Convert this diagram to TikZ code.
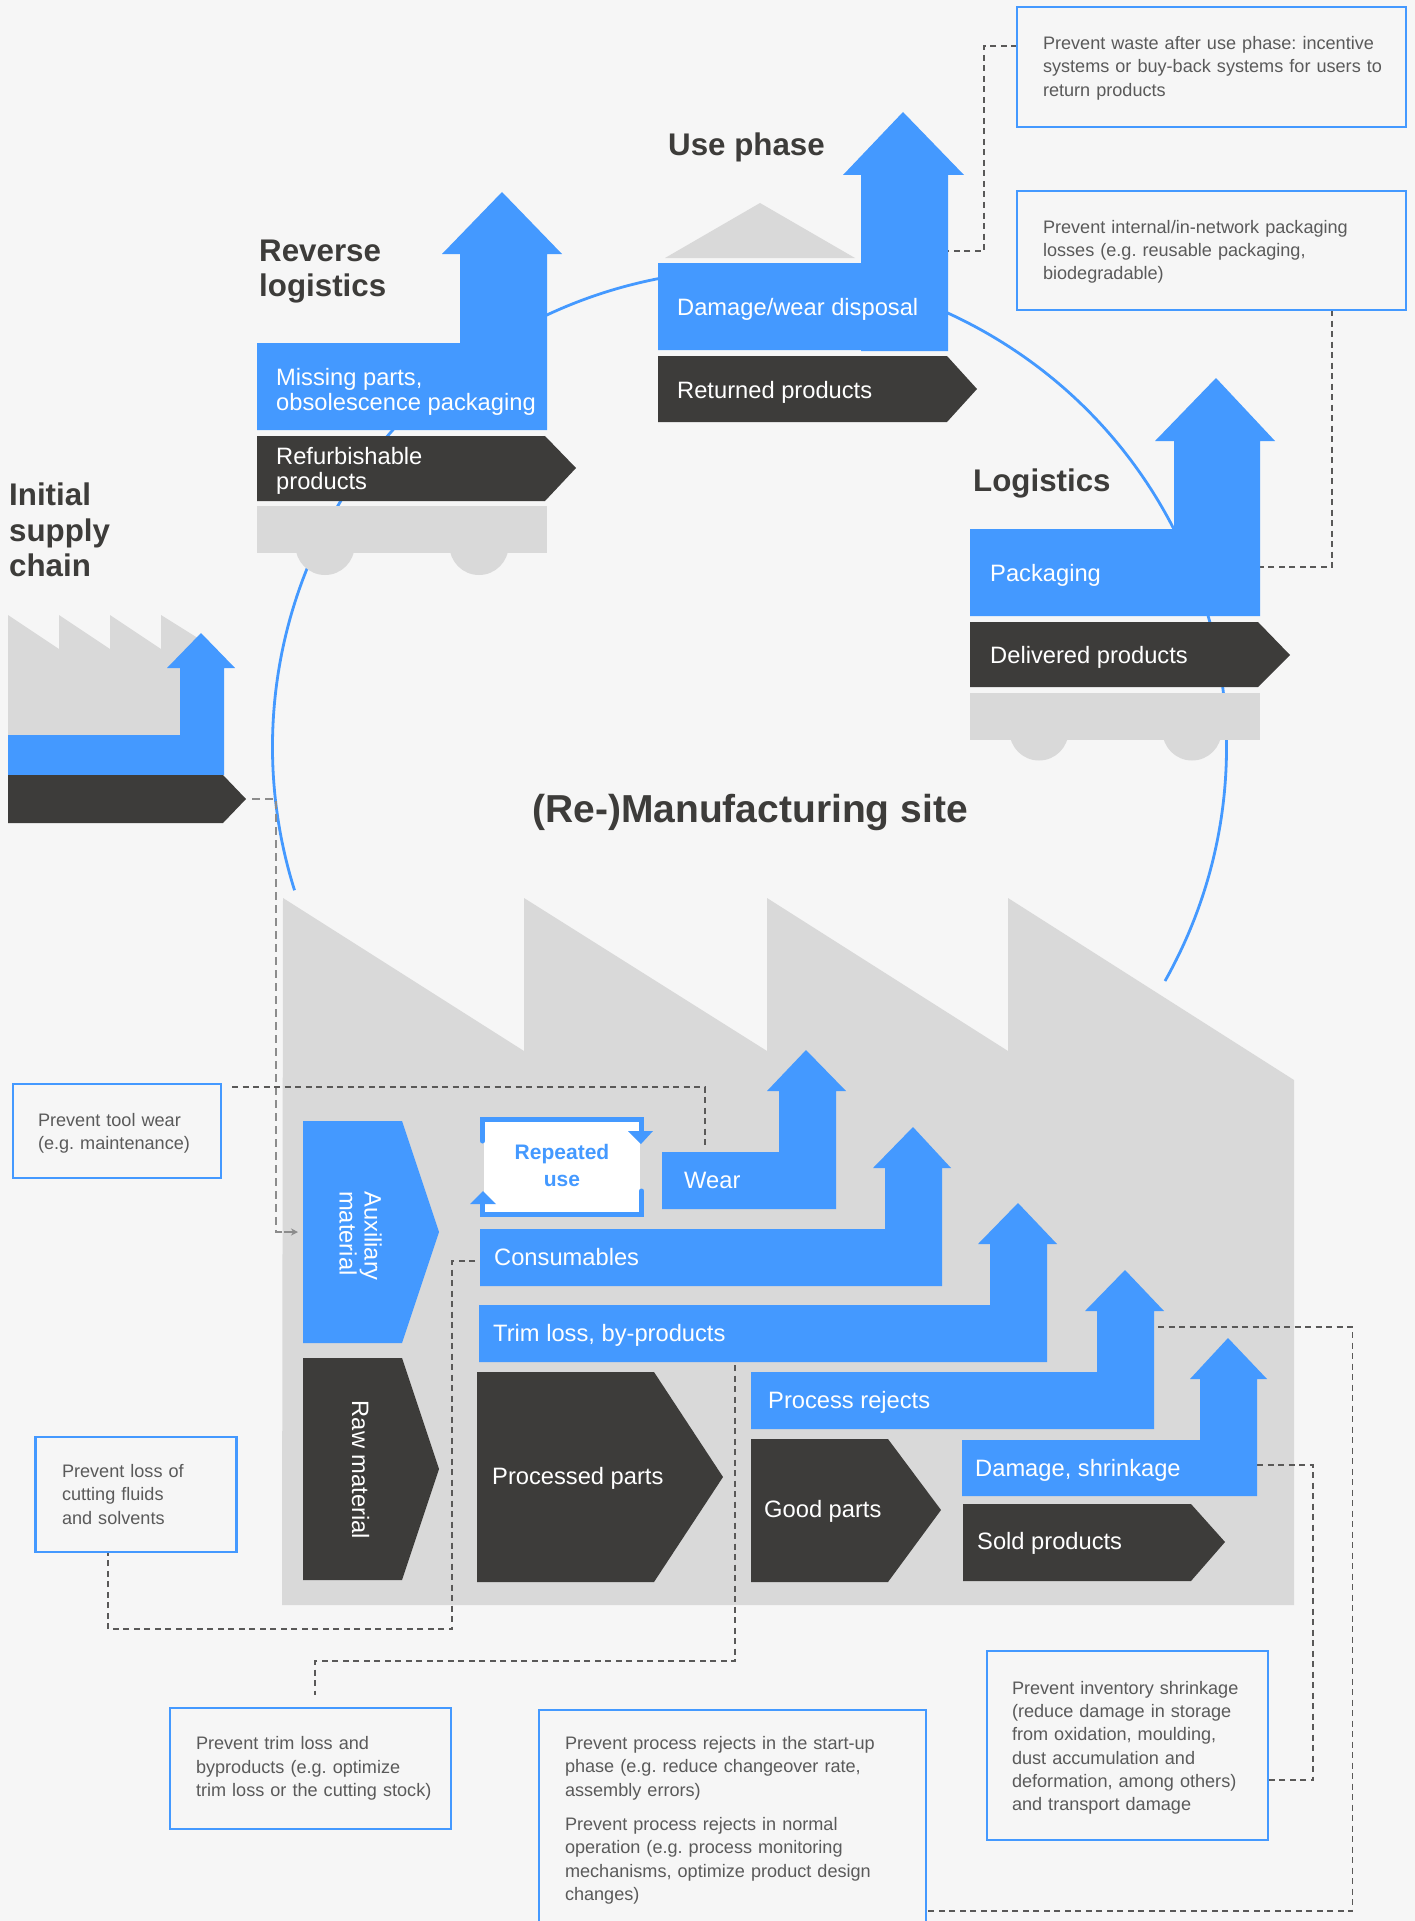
\documentclass[tikz,border=0pt]{standalone}
\usepackage{fontspec}
\setmainfont{Liberation Sans}
\usetikzlibrary{arrows.meta}
\frenchspacing
\definecolor{bgc}{HTML}{F6F6F6}
\definecolor{grayc}{HTML}{D9D9D9}
\definecolor{bluec}{HTML}{4499FF}
\definecolor{darkc}{HTML}{3D3C3A}
\definecolor{notec}{HTML}{5A5A5A}
\tikzset{
  grayshape/.style={fill=grayc,draw=none},
  blueshape/.style={fill=bluec,draw=none},
  darkshape/.style={fill=darkc,draw=none},
  lbl/.style={text=white,anchor=west,inner sep=0pt,align=left,yshift=-2.4pt,font=\fontsize{23.7}{25}\selectfont},
  rotlbl/.style={text=white,inner sep=0pt,align=left,rotate=-90,font=\fontsize{23.7}{25}\selectfont},
  head/.style={text=darkc,anchor=west,inner sep=0pt,align=left,font=\fontsize{31.3}{35.5}\selectfont\bfseries},
  notebox/.style={draw=bluec,line width=2.8pt,fill=none,text=notec,align=left,inner ysep=0pt,
     inner xsep=0pt,font=\fontsize{18.1}{23.3}\selectfont},
  notedown/.style={execute at begin node={\rule{0pt}{#1}}},
  link/.style={draw=darkc!85,line width=1.2pt,dash pattern=on 6pt off 4.5pt},
  inlink/.style={draw=black!45,line width=1.4pt,dash pattern=on 8pt off 5pt},
  ringline/.style={draw=bluec,line width=2.8pt},
  reuse/.style={draw=bluec,line width=5pt,line cap=round,line join=miter}
}
\begin{document}
\begin{tikzpicture}[x=1pt,y=-1pt]
\useasboundingbox[fill=bgc] (0,0) rectangle (1415,1921);

% ring
\coordinate (ringstart) at (1165,981);
\draw[ringline] (ringstart) arc[start angle=-29.4,end angle=197.5,radius=477pt];

% links
\coordinate (a1) at (1017,46);
\coordinate (a2) at (948,251);
\draw[link] (a1) -- (984,46) -- (984,251) -- (a2);
\coordinate (b1) at (1332,310);
\coordinate (b2) at (1260,567);
\draw[link] (b1) -- (1332,567) -- (b2);

% main factory
\path[grayshape] (283,898) -- (524,1051) -- (524,898) -- (767,1051) -- (767,898) -- (1008,1051)
  -- (1008,898) -- (1294,1080) -- (1294,1605) -- (282,1605) -- cycle;

% links across factory
\coordinate (s1) at (252,799);
\coordinate (s2) at (284,1232);
\coordinate (s3) at (298,1232);
\draw[inlink] (s1) -- (276,799) -- (276,1232) -- (s2);
\draw[draw=black!45,line width=1.2pt,-{Stealth[length=7pt,width=7pt]}] (s2) -- (s3);
\coordinate (c1) at (232,1087);
\coordinate (c2) at (705,1148);
\draw[link] (c1) -- (705,1087) -- (c2);
\coordinate (e1) at (475,1261);
\coordinate (e2) at (108,1552);
\draw[link] (e1) -- (452,1261) -- (452,1629) -- (108,1629) -- (e2);
\coordinate (f1) at (735,1365);
\coordinate (f2) at (315,1695);
\draw[link] (f1) -- (735,1661) -- (315,1661) -- (f2);
\coordinate (g1) at (1158,1327);
\coordinate (g2) at (926,1911);
\draw[link] (g1) -- (1352.5,1327) -- (1352.5,1911) -- (g2);
\coordinate (h1) at (1257,1465);
\coordinate (h2) at (1268,1780);
\draw[link] (h1) -- (1313,1465) -- (1313,1780) -- (h2);

% initial supply chain
\path[grayshape] (8,615) -- (59,649) -- (59,615) -- (110,649) -- (110,615) -- (161,649) -- (161,615)
  -- (201,640) -- (201,735) -- (8,735) -- cycle;
\path[blueshape] (8,735) -- (180,735) -- (180,668) -- (167,668) -- (201,633) -- (235,668) -- (224,668)
  -- (224,775) -- (8,775) -- cycle;
\path[darkshape] (8,775) -- (223,775) -- (246,799) -- (223,823) -- (8,823) -- cycle;
\node[head] (hinit) at (9,530) {Initial\\supply\\chain};

% reverse logistics
\path[grayshape] (325,545.5) circle[radius=29.5pt];
\path[grayshape] (479,545.5) circle[radius=29.5pt];
\path[grayshape] (257,506) rectangle (547,553);
\path[blueshape] (257,343) -- (460,343) -- (460,254) -- (442,254) -- (502,192) -- (562,254) -- (547,254)
  -- (547,430) -- (257,430) -- cycle;
\path[darkshape] (257,436) -- (545,436) -- (576,468) -- (545,501) -- (257,501) -- cycle;
\node[head] (hrev) at (259,271.5) {Reverse\\logistics};
\node[lbl] (lmiss) at (276,389) {Missing parts,\\obsolescence packaging};
\node[lbl] (lrefu) at (276,468.5) {Refurbishable\\products};

% use phase
\path[grayshape] (665,258) -- (760,203) -- (855,258) -- cycle;
\path[blueshape] (658,263) -- (861,263) -- (861,175) -- (843,175) -- (903,112) -- (964,175) -- (948,175)
  -- (948,351) -- (861,351) -- (861,350) -- (658,350) -- cycle;
\path[darkshape] (658,356) -- (947,356) -- (977,389) -- (947,422) -- (658,422) -- cycle;
\node[head] (huse) at (668,147.5) {Use phase};
\node[lbl] (ldam) at (677,307) {Damage/wear disposal};
\node[lbl] (lret) at (677,390) {Returned products};

% logistics
\path[grayshape] (1039,731) circle[radius=29.5pt];
\path[grayshape] (1192,731) circle[radius=29.5pt];
\path[grayshape] (970,693) rectangle (1260,740);
\path[blueshape] (970,529) -- (1174,529) -- (1174,441) -- (1155,441) -- (1216,378) -- (1275,441) -- (1260,441)
  -- (1260,616) -- (970,616) -- cycle;
\path[darkshape] (970,622) -- (1258,622) -- (1290,655) -- (1258,687) -- (970,687) -- cycle;
\node[head] (hlog) at (973,483.5) {Logistics};
\node[lbl] (lpack) at (990,573) {Packaging};
\node[lbl] (ldel) at (990,655) {Delivered products};

% site title
\node[text=darkc,inner sep=0pt,yshift=-2.5pt,font=\fontsize{39}{44}\selectfont\bfseries] (hsite) at (750,810) {(Re-)Manufacturing site};

% auxiliary + raw
\path[blueshape] (303,1121) -- (402,1121) -- (439,1232) -- (402,1343) -- (303,1343) -- cycle;
\path[darkshape] (303,1358) -- (402,1358) -- (439,1469) -- (402,1580) -- (303,1580) -- cycle;
\node[rotlbl] (laux) at (360.5,1236) {Auxiliary\\material};
\node[rotlbl] (lraw) at (360.5,1470) {Raw material};

% repeated use
\path[fill=white] (484,1122) rectangle (640,1212);
\draw[reuse] (482.5,1141) -- (482.5,1119.5) -- (641.5,1119.5) -- (641.5,1133);
\path[blueshape] (628,1131) -- (653,1131) -- (641,1144) -- cycle;
\draw[reuse] (641.5,1191) -- (641.5,1214.5) -- (482.5,1214.5) -- (482.5,1201);
\path[blueshape] (470,1204) -- (483,1191) -- (496,1204) -- cycle;
\node[text=bluec,inner sep=0pt,align=center,font=\fontsize{21}{27}\selectfont\bfseries] (lrep) at (562,1165) {Repeated\\use};

% wear
\path[blueshape] (662,1152) -- (779,1152) -- (779,1091) -- (767,1091) -- (806,1050) -- (846,1091) -- (836,1091)
  -- (836,1209) -- (662,1209) -- cycle;
\node[lbl] (lwear) at (684,1177.6) {Wear};
% consumables
\path[blueshape] (480,1229) -- (885,1229) -- (885,1168) -- (873,1168) -- (913,1127) -- (951,1168) -- (942,1168)
  -- (942,1286) -- (480,1286) -- cycle;
\node[lbl] (lcons) at (494,1254.6) {Consumables};
% trim
\path[blueshape] (479,1305) -- (990,1305) -- (990,1244) -- (978,1244) -- (1018,1203) -- (1057,1244) -- (1047,1244)
  -- (1047,1362) -- (479,1362) -- cycle;
\node[lbl] (ltrim) at (493,1333) {Trim loss, by-products};
% process rejects
\path[blueshape] (751,1372) -- (1097,1372) -- (1097,1311) -- (1085,1311) -- (1125,1270) -- (1164,1311) -- (1154,1311)
  -- (1154,1429) -- (751,1429) -- cycle;
\node[lbl] (lproc) at (768,1400) {Process rejects};
% damage
\path[blueshape] (962,1440) -- (1200,1440) -- (1200,1379) -- (1190,1379) -- (1228,1338) -- (1267,1379) -- (1257,1379)
  -- (1257,1496) -- (962,1496) -- cycle;
\node[lbl] (ldmg) at (975,1468) {Damage, shrinkage};
% processed / good / sold
\path[darkshape] (477,1372) -- (654,1372) -- (723,1477) -- (654,1582) -- (477,1582) -- cycle;
\node[lbl] (lpp) at (492,1476) {Processed parts};
\path[darkshape] (751,1439) -- (888,1439) -- (941,1510) -- (888,1582) -- (751,1582) -- cycle;
\node[lbl] (lgood) at (764,1509) {Good parts};
\path[darkshape] (963,1504) -- (1191,1504) -- (1225,1542) -- (1191,1581) -- (963,1581) -- cycle;
\node[lbl] (lsold) at (977,1541) {Sold products};

% notes
\node[notebox,notedown=15.6pt,minimum width=389pt,minimum height=120pt,text width=337pt] (n1) at (1211.5,67)
  {Prevent waste after use phase: incentive\\\mbox{systems or buy-back systems for users to}\\return products};
\node[notebox,notedown=15.6pt,minimum width=389pt,minimum height=119pt,text width=337pt] (n2) at (1211.5,250.5)
  {Prevent internal/in-network packaging\\losses (e.g. reusable packaging,\\biodegradable)};
\node[notebox,notedown=18pt,minimum width=208pt,minimum height=94pt,text width=158pt] (n3) at (117,1131)
  {Prevent tool wear\\(e.g. maintenance)};
\node[notebox,minimum width=201pt,minimum height=115pt,text width=148pt] (n4) at (136,1494.5)
  {Prevent loss of\\cutting fluids\\and solvents};
\node[notebox,minimum width=281pt,minimum height=121pt,text width=229pt] (n5) at (310.5,1768.5)
  {Prevent trim loss and\\byproducts (e.g. optimize\\\mbox{trim loss or the cutting stock)}};
\node[notebox,notedown=15.6pt,minimum width=387pt,minimum height=218pt,text width=335pt] (n6) at (732.5,1819)
  {Prevent process rejects in the start-up\\phase (e.g. reduce changeover rate,\\assembly errors)\\[11pt]Prevent process rejects in normal\\operation (e.g. process monitoring\\mechanisms, optimize product design\\changes)};
\node[notebox,notedown=18pt,minimum width=281pt,minimum height=189pt,text width=231pt] (n7) at (1127.5,1745.5)
  {Prevent inventory shrinkage\\(reduce damage in storage\\from oxidation, moulding,\\dust accumulation and\\deformation, among others)\\and transport damage};
\end{tikzpicture}
\end{document}
